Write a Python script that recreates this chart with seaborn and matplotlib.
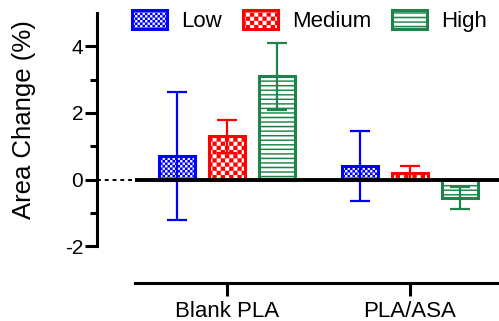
import warnings
import matplotlib
matplotlib.use("Agg")
import matplotlib.pyplot as plt
import matplotlib.hatch as mhatch
from matplotlib.path import Path
import numpy as np
import seaborn as sns
import pandas as pd

warnings.filterwarnings("ignore")

# Area change per material and exposure level (mean and error)
groups = ["Blank PLA", "PLA/ASA"]
levels = ["Low", "Medium", "High"]
low_vals = [0.7, 0.42]
low_err = [1.92, 1.05]
medium_vals = [1.3, 0.2]
medium_err = [0.5, 0.22]
high_vals = [3.1, -0.55]
high_err = [1.0, 0.33]

colors = {"Low": "#0000FF", "Medium": "#FF0000", "High": "#1E8449"}


# Filled checkerboard and stripe fills for the bars
class Checker(mhatch.HatchPatternBase):
    def __init__(self, char, cells, hatch):
        self.n = cells if char in hatch else 0
        self.squares = [(i, j) for i in range(self.n) for j in range(self.n)
                        if (i + j) % 2 == 0]
        self.num_vertices = 5 * len(self.squares)
        self.filled = True

    def set_vertices_and_codes(self, vertices, codes):
        s = 1.0 / self.n
        k = 0
        for i, j in self.squares:
            x0, y0 = i * s, j * s
            vertices[k:k + 5] = [(x0, y0), (x0 + s, y0), (x0 + s, y0 + s),
                                 (x0, y0 + s), (x0, y0)]
            codes[k:k + 5] = [Path.MOVETO, Path.LINETO, Path.LINETO,
                              Path.LINETO, Path.CLOSEPOLY]
            k += 5


class CoarseChecker(Checker):
    def __init__(self, hatch, density):
        super().__init__("c", 24, hatch)


class FineChecker(Checker):
    def __init__(self, hatch, density):
        super().__init__("k", 40, hatch)


class Stripes(mhatch.HatchPatternBase):
    def __init__(self, hatch, density):
        self.n = 22 if "h" in hatch else 0
        self.num_vertices = 5 * self.n
        self.filled = True

    def set_vertices_and_codes(self, vertices, codes):
        s = 1.0 / self.n
        t = 0.3 * s
        for j in range(self.n):
            y0 = j * s
            k = 5 * j
            vertices[k:k + 5] = [(0, y0), (1, y0), (1, y0 + t), (0, y0 + t), (0, y0)]
            codes[k:k + 5] = [Path.MOVETO, Path.LINETO, Path.LINETO,
                              Path.LINETO, Path.CLOSEPOLY]


mhatch._hatch_types.extend([CoarseChecker, FineChecker, Stripes])
hatches = {"Low": "k", "Medium": "c", "High": "h"}

vals = {"Low": low_vals, "Medium": medium_vals, "High": high_vals}
errs = {"Low": low_err, "Medium": medium_err, "High": high_err}

df = pd.DataFrame(
    [(g, lv, vals[lv][i]) for lv in levels for i, g in enumerate(groups)],
    columns=["group", "level", "value"],
)

sns.set_theme(style="white")
plt.rcParams["font.family"] = ["Liberation Sans", "DejaVu Sans"]
plt.rcParams["hatch.linewidth"] = 0.1
plt.rcParams["text.color"] = "black"
plt.rcParams["axes.labelcolor"] = "black"

fig = plt.figure(figsize=(4.99, 3.21), dpi=100)
ax = fig.add_axes([0.1944, 0.1184, 0.8056, 0.8411])

sns.barplot(
    data=df, x="group", y="value", hue="level", order=groups, hue_order=levels,
    palette=colors, errorbar=None, width=0.82, gap=0.27, ax=ax, legend=False,
)

for lv, cont in zip(levels, ax.containers):
    xs = []
    for bar in cont:
        bar.set_facecolor("white")
        bar.set_edgecolor(colors[lv])
        bar.set_linewidth(2.2)
        bar.set_hatch(hatches[lv])
        bar.set_zorder(2)
        xs.append(bar.get_x() + bar.get_width() / 2)
    ax.errorbar(xs, vals[lv], yerr=errs[lv], fmt="none", ecolor=colors[lv],
                elinewidth=1.6, capsize=7, capthick=1.6, zorder=3)

# zero reference line: dotted near the axis, solid across the groups
x_start = -0.503
ax.plot([-0.71, x_start], [0, 0], color="black", lw=1.4, ls=(0, (2, 2)), zorder=4)
ax.plot([x_start, 1.486], [0, 0], color="black", lw=2.8, zorder=4, solid_capstyle="butt")

ax.set_xlim(-0.71, 1.486)
ax.set_ylim(-3.1, 5.0)

ax.set_yticks([-2, 0, 2, 4])
ax.set_yticks([-1, 1, 3], minor=True)
ax.set_yticklabels(["-2", "0", "2", "4"])
ax.set_xlabel("")
ax.set_ylabel("Area Change (%)", fontsize=18.5, color="black")
ax.yaxis.set_label_coords(-0.152, 0.604)

for side in ["top", "right"]:
    ax.spines[side].set_visible(False)
ax.spines["left"].set_bounds(-2, 5)
ax.spines["bottom"].set_bounds(x_start, 1.486)
for side in ["left", "bottom"]:
    ax.spines[side].set_linewidth(2.2)
    ax.spines[side].set_color("black")

ax.tick_params(axis="y", which="major", direction="out", length=9, width=2.2,
               labelsize=15, pad=1, left=True, colors="black")
ax.tick_params(axis="y", which="minor", direction="out", length=5, width=2.2,
               left=True, colors="black")
ax.tick_params(axis="x", which="major", direction="out", length=9, width=2.2,
               labelsize=16, pad=4, bottom=True, colors="black")

handles = [cont[0] for cont in ax.containers]
fig.legend(handles, levels, loc="upper center", bbox_to_anchor=(0.62, 1.03),
           ncol=3, frameon=False, fontsize=16, handlelength=1.58, handleheight=0.9,
           columnspacing=0.95, handletextpad=0.63, labelcolor="black")

fig.savefig("out.png", dpi=100)
